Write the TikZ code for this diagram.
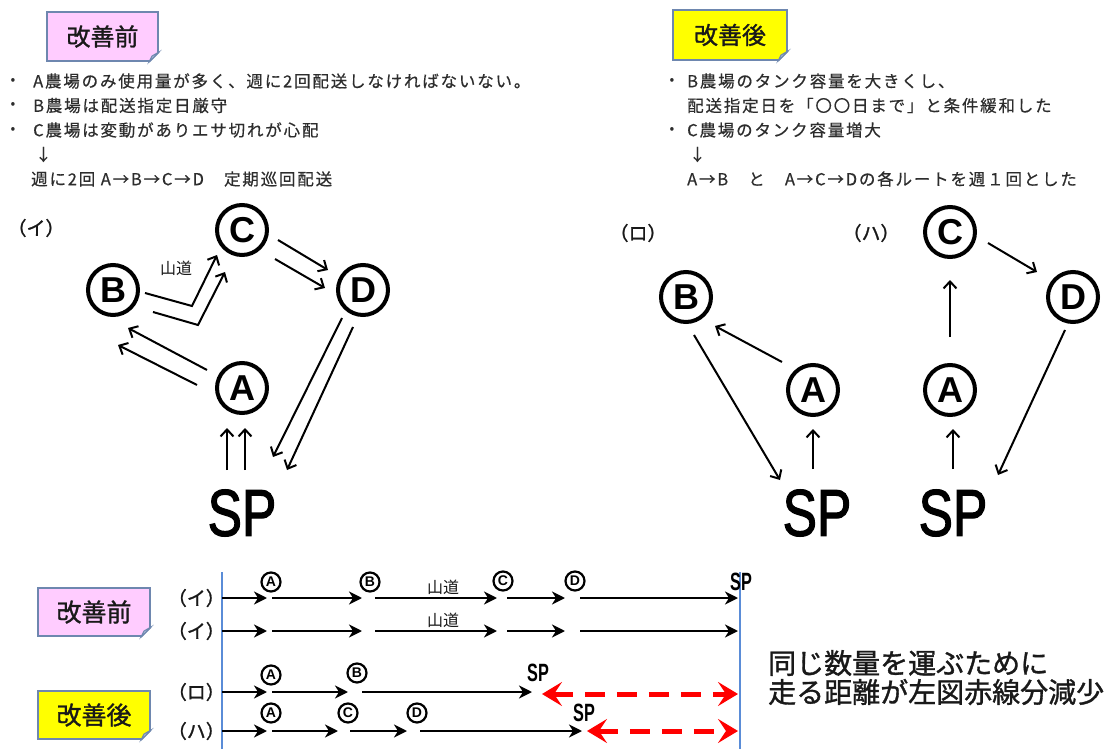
\documentclass[tikz,border=0pt]{standalone}
\usepackage{fontspec}
\setmainfont{Noto Sans CJK JP}
\newfontfamily\jp{Noto Sans CJK JP}
\newfontfamily\jpb[FakeBold=1.2]{Noto Sans CJK JP}
\newfontfamily\jpsp[LetterSpace=11,FakeBold=0.5]{Noto Sans CJK JP}
\newfontfamily\lat{Liberation Sans}
\newfontfamily\latsp[FakeBold=2]{Liberation Sans}
\usetikzlibrary{arrows.meta,calc}
\definecolor{pinkbox}{RGB}{255,204,255}
\definecolor{yelbox}{RGB}{255,255,0}
\definecolor{boxborder}{RGB}{110,135,175}
\definecolor{foldcol}{RGB}{175,190,215}
\definecolor{bodygray}{RGB}{45,45,45}
\definecolor{vblue}{RGB}{90,140,215}
\definecolor{txtdark}{RGB}{25,25,25}
\newcommand\dogear[1]{%
  \fill[white] ($(#1.south east)+(1.5,1.5)$) -- ($(#1.south east)+(-11,1.5)$) -- ($(#1.south east)+(1.5,-11)$) -- cycle;
  \draw[boxborder, line width=1.5pt] ($(#1.south east)+(-10,0)$) -- ($(#1.south east)+(0,-10)$);
  \filldraw[draw=boxborder, fill=foldcol, line width=1pt] ($(#1.south east)+(-10,0)$) -- ($(#1.south east)+(0,-10)$) -- ($(#1.south east)+(-7,-6)$) -- cycle;}
\tikzset{
  tbox/.style={draw=boxborder, line width=2pt, inner sep=0pt, text=txtdark,
    font=\jpb\fontsize{24}{24}\selectfont},
  body/.style={anchor=west, inner sep=0pt, text=bodygray, font=\jpsp\fontsize{16.5}{20}\selectfont},
  bul/.style={inner sep=0pt, text=bodygray, font=\jp\fontsize{14}{14}\selectfont},
  lab/.style={inner sep=0pt, text=txtdark, font=\jpb\fontsize{19}{19}\selectfont},
  mtn/.style={inner sep=0pt, text=txtdark, font=\jp\fontsize{16}{16}\selectfont},
  circ/.style={circle, draw, line width=4pt, minimum size=50pt, inner sep=0pt,
    font=\lat\bfseries\fontsize{36}{36}\selectfont},
  sp/.style={inner sep=0pt, font=\latsp\fontsize{66}{66}\selectfont},
  garr/.style={line width=2pt, -{Straight Barb[length=7pt,width=13pt,line width=2pt]}},
  scirc/.style={circle, draw, line width=2.2pt, minimum size=19pt, inner sep=0pt,
    font=\lat\bfseries\fontsize{14}{14}\selectfont},
  ssp/.style={inner sep=0pt, font=\lat\bfseries\fontsize{25}{25}\selectfont},
  barr/.style={line width=2.5pt, -{Stealth[length=13pt,width=13pt,inset=4pt]}},
  rarr/.style={red, line width=5pt, dash pattern=on 20pt off 12pt,
    {Stealth[length=20pt,width=24pt,inset=8pt]}-{Stealth[length=20pt,width=24pt,inset=8pt]}},
  big/.style={anchor=west, inner sep=0pt, text=txtdark, font=\jpb\fontsize{28}{28}\selectfont},
}
\begin{document}
\begin{tikzpicture}[x=1pt,y=-1pt]
\useasboundingbox (0,0) rectangle (1120,749);
\fill[white] (0,0) rectangle (1120,749);

% ---------- title boxes ----------
\node[tbox, fill=pinkbox, minimum width=111pt, minimum height=49pt] (t1) at (102.5,36.5) {改善前};
\dogear{t1}
\node[tbox, fill=yelbox, minimum width=114pt, minimum height=50pt] (t2) at (730,35) {改善後};
\dogear{t2}

% ---------- left text ----------
\node[bul] (lb1) at (13,81) {•};
\node[bul] (lb2) at (13,105.5) {•};
\node[bul] (lb3) at (13,130) {•};
\node[body] (lt1) at (33,81) {A農場のみ使用量が多く、週に2回配送しなければないない。};
\node[body] (lt2) at (33,105.5) {B農場は配送指定日厳守};
\node[body] (lt3) at (33,130) {C農場は変動がありエサ切れが心配};
\node[body] (lt4) at (35,154.5) {↓};
\node[body] (lt5) at (31,179) {週に2回 A→B→C→D　定期巡回配送};

% ---------- right text ----------
\node[bul] (rb1) at (672,81) {•};
\node[bul] (rb3) at (672,130) {•};
\node[body] (rt1) at (687,81) {B農場のタンク容量を大きくし、};
\node[body] (rt2) at (687,105.5) {配送指定日を「〇〇日まで」と条件緩和した};
\node[body] (rt3) at (687,130) {C農場のタンク容量増大};
\node[body] (rt4) at (689,154.5) {↓};
\node[body] (rt5) at (687,179) {A→B　と　A→C→Dの各ルートを週１回とした};

% ---------- graph (イ) ----------
\node[lab] (li) at (36,228) {（イ）};
\node[circ] (iC) at (242,230) {C};
\node[circ] (iB) at (113,290) {B};
\node[circ] (iD) at (363,290) {D};
\node[circ] (iA) at (242,388) {A};
\node[sp] (iS) at (242,513) {\scalebox{0.78}[1]{SP}};
\node[mtn] (iM) at (176,268) {山道};
\draw[garr] ([shift={(-35,-18)}]iA.center) -- ([shift={(15,38)}]iB.center);
\draw[garr] ([shift={(-45,-3)}]iA.center) -- ([shift={(5,55)}]iB.center);
\draw[garr] ([shift={(32,3)}]iB.center) -- ([shift={(-50,76)}]iC.center) -- ([shift={(-25,25)}]iC.center);
\draw[garr] ([shift={(40,22)}]iB.center) -- ([shift={(-44,95)}]iC.center) -- ([shift={(-17,42)}]iC.center);
\draw[garr] ([shift={(36,10)}]iC.center) -- ([shift={(-35,-20)}]iD.center);
\draw[garr] ([shift={(33,29)}]iC.center) -- ([shift={(-38,-2)}]iD.center);
\draw[garr] ([shift={(-21,28)}]iD.center) -- ([shift={(31,-56)}]iS.center);
\draw[garr] ([shift={(-10,37)}]iD.center) -- ([shift={(45,-43)}]iS.center);
\draw[garr] ([shift={(-15,-43)}]iS.center) -- ([shift={(-15,40)}]iA.center);
\draw[garr] ([shift={(3,-43)}]iS.center) -- ([shift={(3,40)}]iA.center);

% ---------- graph (ロ) ----------
\node[lab] (lro) at (638,233) {（ロ）};
\node[circ] (rB) at (686,297) {B};
\node[circ] (rA) at (813,390) {A};
\node[sp] (rS) at (817,513) {\scalebox{0.78}[1]{SP}};
\draw[garr] ([shift={(-31,-28)}]rA.center) -- ([shift={(29,29)}]rB.center);
\draw[garr] ([shift={(8,38)}]rB.center) -- ([shift={(-37,-33)}]rS.center);
\draw[garr] ([shift={(-4,-44)}]rS.center) -- ([shift={(0,39)}]rA.center);

% ---------- graph (ハ) ----------
\node[lab] (lha) at (871,233) {（ハ）};
\node[circ] (hC) at (950,232) {C};
\node[circ] (hD) at (1073,297) {D};
\node[circ] (hA) at (950,390) {A};
\node[sp] (hS) at (953,513) {\scalebox{0.78}[1]{SP}};
\draw[garr] ([shift={(0,-53)}]hA.center) -- ([shift={(0,48)}]hC.center);
\draw[garr] ([shift={(38,11)}]hC.center) -- ([shift={(-36,-25)}]hD.center);
\draw[garr] ([shift={(-8,33)}]hD.center) -- ([shift={(45,-38)}]hS.center);
\draw[garr] ([shift={(0,-44)}]hS.center) -- ([shift={(3,39)}]hA.center);

% ---------- bottom timeline ----------
\node[tbox, fill=pinkbox, minimum width=112pt, minimum height=48pt, font=\jpb\fontsize{25}{25}\selectfont] (b1) at (94,612) {改善前};
\dogear{b1}
\node[tbox, fill=yelbox, minimum width=112pt, minimum height=48pt, font=\jpb\fontsize{25}{25}\selectfont] (b2) at (94,715) {改善後};
\dogear{b2}

\coordinate (vl1) at (222,572);
\coordinate (vl2) at (222,749);
\coordinate (vr1) at (740,572);
\coordinate (vr2) at (740,749);
\draw[vblue, line width=1.3pt] (vl1) -- (vl2);
\draw[vblue, line width=1.3pt] (vr1) -- (vr2);

\node[lab, anchor=east] (k1) at (225,598) {（イ）};
\node[lab, anchor=east] (k2) at (225,631) {（イ）};
\node[lab, anchor=east] (k3) at (225,692) {（ロ）};
\node[lab, anchor=east] (k4) at (225,731) {（ハ）};

% row 1
\node[scirc] (a1) at (271,582) {A};
\node[scirc] (bb1) at (370,582) {B};
\node[scirc] (c1) at (503,581) {C};
\node[scirc] (d1) at (575,581) {D};
\node[ssp] (s1) at (741,582) {\scalebox{0.65}[1]{SP}};
\node[mtn] (m1) at (443,587) {山道};
\draw[barr] (222,598) -- (267,598);
\draw[barr] (272,598) -- (362,598);
\draw[barr] (375,598) -- (497,598);
\draw[barr] (507,598) -- (565,598);
\draw[barr] (580,598) -- (738,598);
% row 2
\node[mtn] (m2) at (443,620) {山道};
\draw[barr] (222,631) -- (267,631);
\draw[barr] (272,631) -- (362,631);
\draw[barr] (375,631) -- (497,631);
\draw[barr] (507,631) -- (565,631);
\draw[barr] (580,631) -- (738,631);
% row 3
\node[scirc] (a3) at (271,675) {A};
\node[scirc] (bb3) at (357,673) {B};
\node[ssp] (s3) at (538,673) {\scalebox{0.65}[1]{SP}};
\draw[barr] (222,692) -- (267,692);
\draw[barr] (272,692) -- (348,692);
\draw[barr] (362,692) -- (532,692);
\coordinate (r3a) at (542,694);
\coordinate (r3b) at (738,694);
\draw[rarr] (r3a) -- (r3b);
% row 4
\node[scirc] (a4) at (271,713) {A};
\node[scirc] (c4) at (348,713) {C};
\node[scirc] (d4) at (417,713) {D};
\node[ssp] (s4) at (584,713) {\scalebox{0.65}[1]{SP}};
\draw[barr] (222,731) -- (267,731);
\draw[barr] (272,731) -- (338,731);
\draw[barr] (350,731) -- (407,731);
\draw[barr] (420,731) -- (582,731);
\coordinate (r4a) at (587,731);
\coordinate (r4b) at (738,731);
\draw[rarr] (r4a) -- (r4b);

% ---------- note ----------
\node[big] (n1) at (768,663) {同じ数量を運ぶために};
\node[big] (n2) at (768,692) {走る距離が左図赤線分減少};
\end{tikzpicture}
\end{document}
